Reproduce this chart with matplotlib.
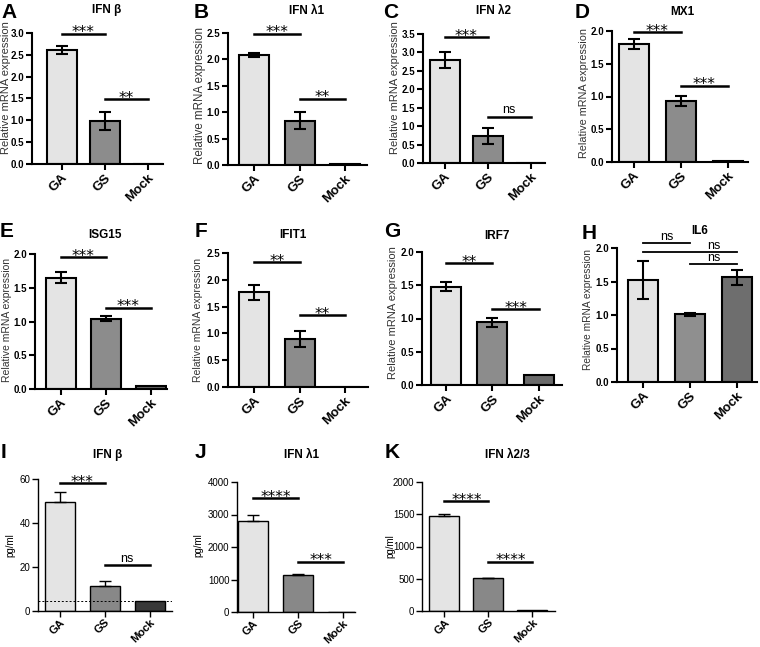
import numpy as np
import matplotlib.pyplot as plt

plt.rcParams['font.family'] = ['Liberation Sans', 'DejaVu Sans']

groups = ["GA", "GS", "Mock"]

# qPCR panels (mean, SEM)
ifnb_mrna = [2.62, 0.98, 0.01]
ifnb_mrna_err = [0.09, 0.20, 0.0]
ifnl1_mrna = [2.08, 0.84, 0.01]
ifnl1_mrna_err = [0.04, 0.16, 0.0]
ifnl2_mrna = [2.80, 0.74, 0.0]
ifnl2_mrna_err = [0.21, 0.22, 0.0]
mx1_mrna = [1.80, 0.93, 0.01]
mx1_mrna_err = [0.075, 0.08, 0.0]
isg15_mrna = [1.65, 1.04, 0.05]
isg15_mrna_err = [0.085, 0.035, 0.0]
ifit1_mrna = [1.77, 0.90, 0.0]
ifit1_mrna_err = [0.14, 0.15, 0.0]
irf7_mrna = [1.48, 0.94, 0.15]
irf7_mrna_err = [0.065, 0.07, 0.0]
il6_mrna = [1.52, 1.01, 1.56]
il6_mrna_err = [0.28, 0.025, 0.105]

# ELISA panels (mean, SEM up only)
ifnb_prot = [49.7, 11.5, 4.5]
ifnb_prot_err = [4.6, 2.2, 0.0]
ifnb_limit = 4.4
ifnl1_prot = [2810, 1140, 10]
ifnl1_prot_err = [185, 35, 0]
ifnl23_prot = [1475, 505, 8]
ifnl23_prot_err = [25, 10, 0]

# significance bars: (from, to, height, label[, label x])
sig_A = [(0, 1, 2.98, "***"), (1, 2, 1.48, "**")]
sig_B = [(0, 1, 2.49, "***"), (1, 2, 1.25, "**")]
sig_C = [(0, 1, 3.41, "***"), (1, 2, 1.25, "ns")]
sig_D = [(0, 1, 1.98, "***"), (1, 2, 1.16, "***")]
sig_E = [(0, 1, 1.95, "***"), (1, 2, 1.20, "***")]
sig_F = [(0, 1, 2.33, "**"), (1, 2, 1.34, "**")]
sig_G = [(0, 1, 1.83, "**"), (1, 2, 1.14, "***")]
sig_H = [(0, 1, 2.07, "ns"), (0, 2, 1.94, "ns", 1.5), (1, 2, 1.76, "ns")]
sig_I = [(0, 1, 58, "***"), (1, 2, 20.9, "ns")]
sig_J = [(0, 1, 3505, "****"), (1, 2, 1546, "***")]
sig_K = [(0, 1, 1701, "****"), (1, 2, 763, "****")]

c_ga, c_gs = "#e4e4e4", "#8c8c8c"

panels = [
    ("A", "IFN β", ifnb_mrna, ifnb_mrna_err, [c_ga, c_gs, "#777777"], sig_A, 3.0, 0.5, "mRNA"),
    ("B", "IFN λ1", ifnl1_mrna, ifnl1_mrna_err, [c_ga, c_gs, "#777777"], sig_B, 2.5, 0.5, "mRNA"),
    ("C", "IFN λ2", ifnl2_mrna, ifnl2_mrna_err, [c_ga, c_gs, "#777777"], sig_C, 3.5, 0.5, "mRNA"),
    ("D", "MX1", mx1_mrna, mx1_mrna_err, [c_ga, c_gs, "#777777"], sig_D, 2.0, 0.5, "mRNA"),
    ("E", "ISG15", isg15_mrna, isg15_mrna_err, [c_ga, c_gs, "#6a6a6a"], sig_E, 2.0, 0.5, "mRNA"),
    ("F", "IFIT1", ifit1_mrna, ifit1_mrna_err, [c_ga, c_gs, "#6a6a6a"], sig_F, 2.5, 0.5, "mRNA"),
    ("G", "IRF7", irf7_mrna, irf7_mrna_err, [c_ga, c_gs, "#6a6a6a"], sig_G, 2.0, 0.5, "mRNA"),
    ("H", "IL6", il6_mrna, il6_mrna_err, [c_ga, "#8f8f8f", "#6e6e6e"], sig_H, 2.0, 0.5, "mRNA"),
    ("I", "IFN β", ifnb_prot, ifnb_prot_err, [c_ga, "#888888", "#383838"], sig_I, 60, 20, "prot"),
    ("J", "IFN λ1", ifnl1_prot, ifnl1_prot_err, [c_ga, "#888888", "#555555"], sig_J, 4000, 1000, "prot"),
    ("K", "IFN λ2/3", ifnl23_prot, ifnl23_prot_err, [c_ga, "#888888", "#555555"], sig_K, 2000, 500, "prot"),
]

# layout in pixels: axis x0, x1, y top, y bottom, first bar centre, bar step,
# letter pos, title pos, ylabel size, ylabel gap from axis, ylabel centre y
W, H = 760, 647
layout = {
    "A": (32, 163, 33, 164, 61.5, 43, (1, 3), (107, 10), 8.0, 21, 88),
    "B": (228, 367, 33, 165, 254, 45.5, (194, 3), (307, 11), 8.3, 22, 95),
    "C": (423, 545, 34, 163, 444.5, 43, (383, 3), (493, 11), 8, 23, 88),
    "D": (612, 748, 31, 162, 633.5, 47, (575, 3), (682, 12), 7.8, 23, 93),
    "E": (35, 167, 254, 389, 60.5, 45, (0, 222), (105, 235), 7.5, 23, 320),
    "F": (228, 368, 253, 387, 254, 45.5, (195, 222), (293, 235), 7.5, 25, 320),
    "G": (422, 562, 252, 385, 446, 46.5, (384, 222), (497, 236), 8, 24, 313),
    "H": (617, 757, 248, 382, 643, 47, (582, 224), (700, 231), 7.3, 24, 309),
    "I": (38, 172, 479, 611, 59.5, 45, (1, 443), (108, 455), 7, 23, 545),
    "J": (237, 355, 482, 612, 253, 45, (195, 443), (302, 455), 7, 34, 545),
    "K": (422, 555, 482, 611, 444.5, 44, (385, 443), (507, 455), 7, 27, 546),
}

fig = plt.figure(figsize=(W / 100, H / 100), dpi=100)

for letter, title, vals, errs, colors, sigs, ymax, ystep, kind in panels:
    x0, x1, yt, yb, c0, step, lpos, tpos, ylsize, ylgap, ylc = layout[letter]
    ax = fig.add_axes([x0 / W, 1 - yb / H, (x1 - x0) / W, (yb - yt) / H])
    lw = 1.5 if kind == "mRNA" else 1.0
    x = np.arange(len(groups))
    ax.bar(x, vals, width=30 / step, color=colors, edgecolor="black", linewidth=lw, zorder=2)
    for i in range(len(groups)):
        if errs[i] <= 0:
            continue
        yerr = [[errs[i]], [errs[i]]] if kind == "mRNA" else [[0], [errs[i]]]
        ax.errorbar(x[i], vals[i], yerr=yerr, fmt="none", ecolor="black",
                    elinewidth=lw, capsize=4.5, capthick=lw, zorder=3)
    if letter == "I":
        ax.axhline(ifnb_limit, color="black", lw=0.7, ls=(0, (2, 2)), zorder=4)

    ax.set_xlim(-(c0 - x0) / step, (x1 - c0) / step)
    ax.set_ylim(0, ymax)
    ax.set_yticks(np.arange(0, ymax + ystep / 2, ystep))
    for s in ("top", "right"):
        ax.spines[s].set_visible(False)
    for s in ("left", "bottom"):
        ax.spines[s].set_linewidth(lw)
    ax.tick_params(width=lw, length=4, pad=1.5)
    ax.set_xticks(x)
    ax.set_xticklabels(groups, rotation=45, ha="right", rotation_mode="anchor",
                       fontsize=9.5 if kind == "mRNA" else 8, fontweight="bold")
    if kind == "mRNA":
        ax.set_yticklabels([f"{v:.1f}" for v in ax.get_yticks()], fontsize=7, fontweight="bold")
        ax.set_ylabel("Relative mRNA expression", fontsize=ylsize, color="#333333")
    else:
        ax.tick_params(axis="x", pad=0.5)
        ax.set_yticklabels([f"{v:g}" for v in ax.get_yticks()], fontsize=7)
        ax.set_ylabel("pg/ml", fontsize=ylsize)
    ax.yaxis.set_label_coords(-ylgap / (x1 - x0), (yb - ylc) / (yb - yt))

    for s in sigs:
        i, j, y, lab = s[:4]
        tx = s[4] if len(s) > 4 else (i + j) / 2
        ax.plot([i, j], [y, y], color="black", lw=1.3 if letter == "H" else 1.8,
                clip_on=False, zorder=4)
        if lab == "ns":
            ax.annotate(lab, (tx, y), xytext=(0, 2.5), textcoords="offset points",
                        ha="center", va="baseline", fontsize=9, annotation_clip=False)
        else:
            ax.annotate(lab, (tx, y), xytext=(0, -2.5), textcoords="offset points",
                        ha="center", va="baseline", fontsize=11, family="DejaVu Sans",
                        annotation_clip=False)

    fig.text(lpos[0] / W, 1 - lpos[1] / H, letter, fontsize=15, fontweight="bold",
             ha="left", va="top")
    fig.text(tpos[0] / W, 1 - tpos[1] / H, title, fontsize=8.5, fontweight="bold",
             ha="center", va="center")

fig.savefig("out.png", dpi=100)
